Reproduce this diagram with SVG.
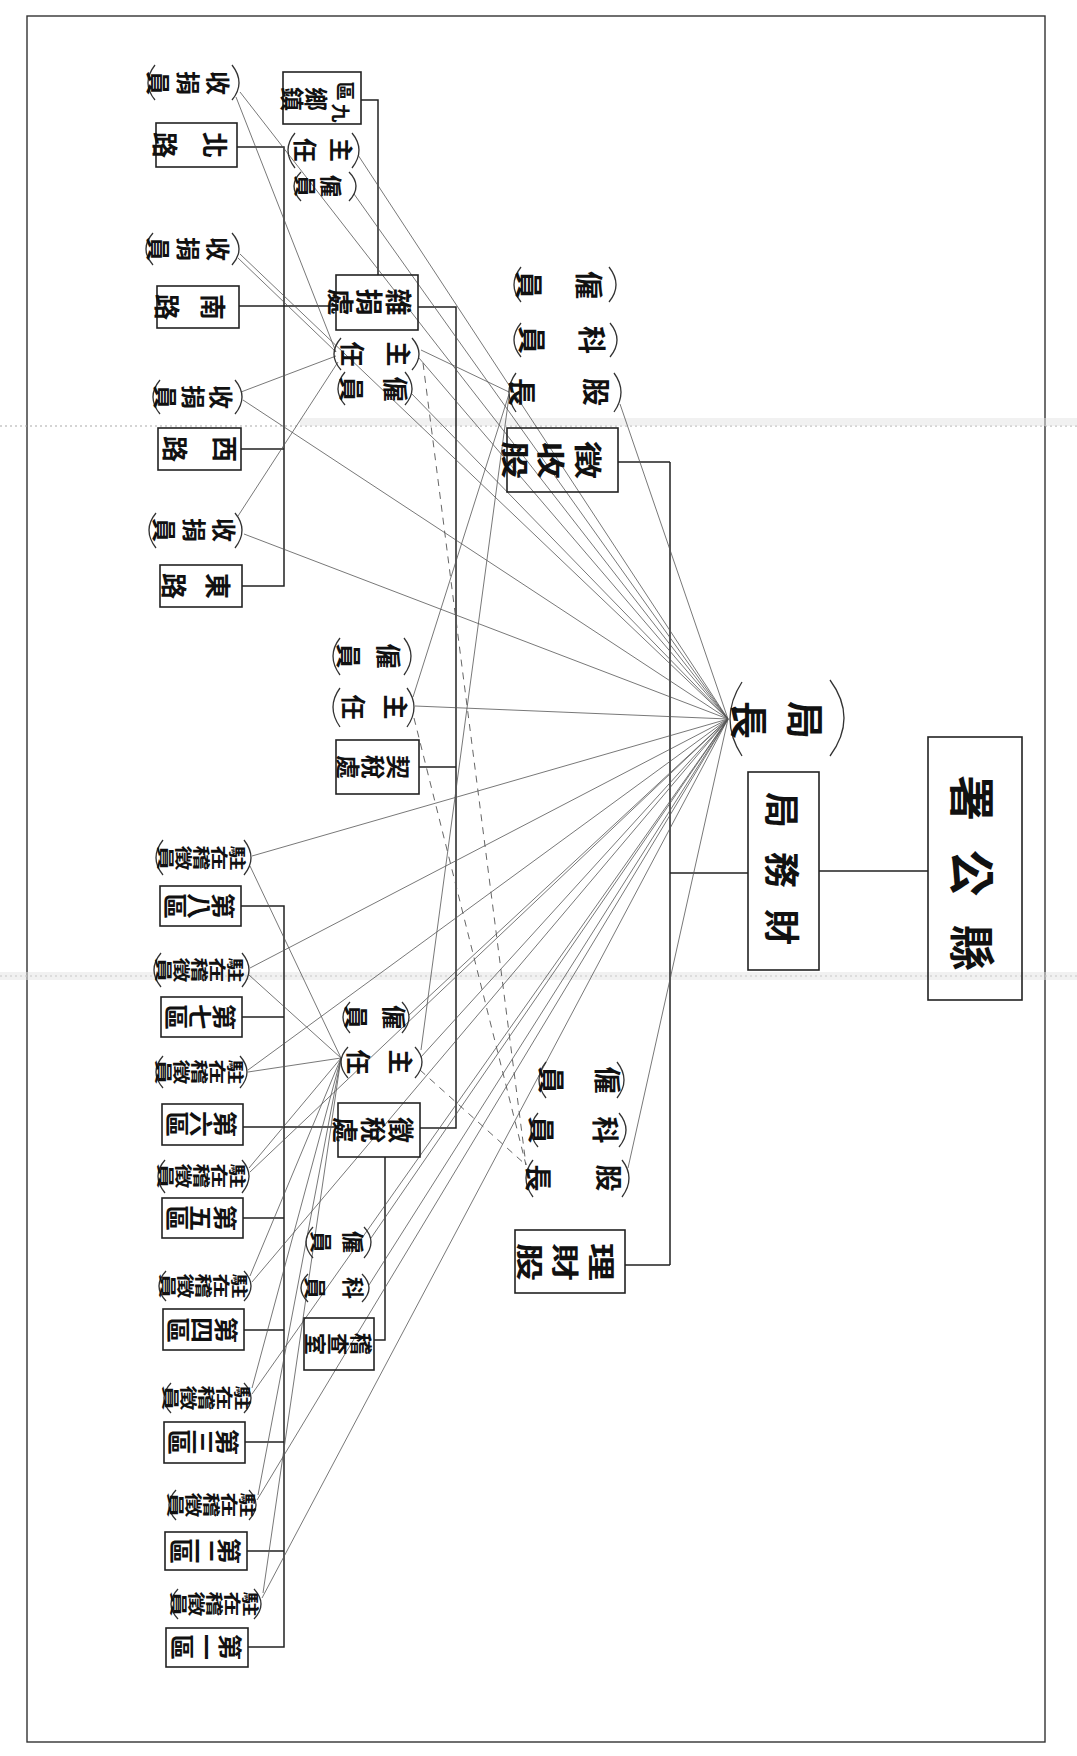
<svg xmlns="http://www.w3.org/2000/svg" width="1077" height="1756" viewBox="0 0 1077 1756">
<style>
.box{fill:none;stroke:#222;stroke-width:1.6}
.arc{fill:none;stroke:#333;stroke-width:1.3}
.tree{fill:none;stroke:#222;stroke-width:1.5}
.fan{fill:none;stroke:#555;stroke-width:0.8}
.dash{fill:none;stroke:#555;stroke-width:0.9;stroke-dasharray:7 6}
.frame{fill:none;stroke:#333;stroke-width:1.4}
.band{fill:none;stroke:#aaa;stroke-width:1.2;stroke-dasharray:2 3}
text{font-family:"Noto Sans CJK TC","Noto Sans CJK SC",sans-serif;font-weight:bold;fill:#111;dominant-baseline:central;text-anchor:middle}
</style>
<rect width="1077" height="1756" fill="#fff"/>
<rect class="frame" x="27" y="16" width="1018" height="1726"/>
<path class="band" d="M0 426H1077M0 976H1077"/>
<rect x="0" y="972" width="1077" height="8" fill="#e4e4e4" opacity="0.5"/>
<rect x="300" y="418" width="777" height="8" fill="#e4e4e4" opacity="0.5"/>

<g id="connectors">
<path class="tree" d="M819 871H928M748 873H670M670 462V1265M618 462H670M625 1265H670M418 307H456V1128H420M419 767H456M361 100H378V275M237 147H284V586H242M239 306H336M241 449H284M385 1157V1340H374M241 906H284V1647H248M242 1017H284M243 1127H338M243 1218H284M244 1330H284M245 1442H284M247 1551H284"/>
<path class="fan" d="M728 719L240 92M728 719L240 254M728 719L243 400M728 719L244 534M728 719L358 155M728 719L354 194M728 719L419 358M728 719L411 393M728 719L620 404M728 719L415 706
M728 719L252 856M728 719L250 968M728 719L248 1070M728 719L250 1172M728 719L252 1282M728 719L252 1394M728 719L257 1500M728 719L262 1598M728 719L409 1015M728 719L421 1057M728 719L371 1238M728 719L369 1285M728 719L628 1168
M336 352L236 97M336 352L238 258M336 356L241 392M338 362L238 516
M509 392L421 350M509 394L413 697M509 396L421 1050
M341 1058L250 866M341 1058L249 975M341 1058L248 1072M341 1058L249 1168M341 1058L250 1276M341 1058L252 1388M341 1058L258 1495M341 1058L263 1593"/>
<path class="dash" d="M423 363L526 1165M414 718L526 1165M420 1070L526 1165"/>
</g>

<g id="n-xiangongshu"><rect class="box" x="928" y="737" width="94" height="263"/>
<text transform="translate(975,873) rotate(90)" font-size="46"><tspan x="75">縣</tspan><tspan x="0">公</tspan><tspan x="-75">署</tspan></text></g>

<g id="n-caiwuju"><rect class="box" x="748" y="772" width="71" height="198"/>
<text transform="translate(784,870) rotate(90)" font-size="36"><tspan x="57">財</tspan><tspan x="0">務</tspan><tspan x="-60">局</tspan></text></g>

<g id="n-juzhang"><path class="arc" d="M742 682Q718 719 742 756M830 680Q858 718 830 756"/>
<text transform="translate(780,720) rotate(90)" font-size="38"><tspan x="0" y="-28">局</tspan><tspan x="0" y="28">長</tspan></text></g>

<g id="n-zhengshougu"><rect class="box" x="507" y="428" width="111" height="64"/>
<text transform="translate(553,460) rotate(90) scale(1,0.75)" font-size="38"><tspan x="0" y="-49">徵</tspan><tspan x="0" y="0">收</tspan><tspan x="0" y="49">股</tspan></text></g>
<g id="n-zs-guyuan"><path class="arc" d="M521 267Q507 285 521 302M609 267Q623 285 609 302"/>
<text transform="translate(560,285) rotate(90)" font-size="28"><tspan x="0" y="-30">僱</tspan><tspan x="0" y="30">員</tspan></text></g>
<g id="n-zs-keyuan"><path class="arc" d="M521 323Q507 340 521 357M610 323Q624 340 610 357"/>
<text transform="translate(563,340) rotate(90)" font-size="28"><tspan x="0" y="-30">科</tspan><tspan x="0" y="30">員</tspan></text></g>
<g id="n-zs-guzhang"><path class="arc" d="M516 373Q502 392 516 412M614 373Q628 392 614 412"/>
<text transform="translate(560,392) rotate(90)" font-size="28"><tspan x="0" y="-37">股</tspan><tspan x="0" y="37">長</tspan></text></g>

<g id="n-licaigu"><rect class="box" x="515" y="1230" width="110" height="63"/>
<text transform="translate(567,1262) rotate(90) scale(1,0.72)" font-size="38"><tspan x="0" y="-50">理</tspan><tspan x="0" y="0">財</tspan><tspan x="0" y="50">股</tspan></text></g>
<g id="n-lc-guyuan"><path class="arc" d="M546 1062Q532 1080 546 1098M617 1062Q631 1080 617 1098"/>
<text transform="translate(581,1080) rotate(90)" font-size="27"><tspan x="0" y="-28">僱</tspan><tspan x="0" y="28">員</tspan></text></g>
<g id="n-lc-keyuan"><path class="arc" d="M538 1113Q524 1130 538 1147M619 1113Q633 1130 619 1147"/>
<text transform="translate(575,1130) rotate(90)" font-size="27"><tspan x="0" y="-32">科</tspan><tspan x="0" y="32">員</tspan></text></g>
<g id="n-lc-guzhang"><path class="arc" d="M533 1160Q519 1178 533 1197M622 1160Q636 1178 622 1197"/>
<text transform="translate(575,1178) rotate(90)" font-size="27"><tspan x="0" y="-35">股</tspan><tspan x="0" y="35">長</tspan></text></g>

<g id="n-zajuanchu"><rect class="box" x="336" y="275" width="82" height="55"/>
<text transform="translate(371,302) rotate(90)" font-size="27"><tspan x="0" y="-29">雜</tspan><tspan x="0" y="0">捐</tspan><tspan x="0" y="29">處</tspan></text></g>
<g id="n-zj-zhuren"><path class="arc" d="M341 338Q327 354 341 370M412 338Q426 354 412 370"/>
<text transform="translate(377,354) rotate(90)" font-size="25"><tspan x="0" y="-23">主</tspan><tspan x="0" y="23">任</tspan></text></g>
<g id="n-zj-guyuan"><path class="arc" d="M345 372Q331 389 345 405M405 372Q419 389 405 405"/>
<text transform="translate(375,389) rotate(90)" font-size="25"><tspan x="0" y="-22">僱</tspan><tspan x="0" y="22">員</tspan></text></g>

<g id="n-jiuqu"><rect class="box" x="283" y="72" width="78" height="52"/>
<text transform="translate(320,99) rotate(90)"><tspan x="14" y="-22" font-size="19">九</tspan><tspan x="-8" y="-27" font-size="19">區</tspan><tspan x="0" y="2" font-size="24">鄉</tspan><tspan x="0" y="26" font-size="24">鎮</tspan></text></g>
<g id="n-bei-zhuren"><path class="arc" d="M295 133Q281 150 295 168M352 133Q366 150 352 168"/>
<text transform="translate(325,150) rotate(90)" font-size="24"><tspan x="0" y="-18">主</tspan><tspan x="0" y="18">任</tspan></text></g>
<g id="n-bei-guyuan"><path class="arc" d="M301 172Q287 186 301 201M349 172Q363 186 349 201"/>
<text transform="translate(320,186) rotate(90)" font-size="22"><tspan x="0" y="-13">僱</tspan><tspan x="0" y="13">員</tspan></text></g>

<g id="n-shoujuan-a"><path class="arc" d="M155 65Q141 83 155 100M232 65Q246 83 232 100"/>
<text transform="translate(190,83) rotate(90)" font-size="24"><tspan x="0" y="-30">收</tspan><tspan x="0" y="0">捐</tspan><tspan x="0" y="30">員</tspan></text></g>
<g id="n-beilu"><rect class="box" x="156" y="123" width="81" height="44"/>
<text transform="translate(192,145) rotate(90)" font-size="26"><tspan x="0" y="-25">北</tspan><tspan x="0" y="25">路</tspan></text></g>
<g id="n-shoujuan-b"><path class="arc" d="M153 233Q139 249 153 265M232 233Q246 249 232 265"/>
<text transform="translate(190,249) rotate(90)" font-size="24"><tspan x="0" y="-30">收</tspan><tspan x="0" y="0">捐</tspan><tspan x="0" y="30">員</tspan></text></g>
<g id="n-nanlu"><rect class="box" x="157" y="286" width="82" height="42"/>
<text transform="translate(192,307) rotate(90)" font-size="26"><tspan x="0" y="-23">南</tspan><tspan x="0" y="23">路</tspan></text></g>
<g id="n-shoujuan-c"><path class="arc" d="M160 380Q146 397 160 414M235 380Q249 397 235 414"/>
<text transform="translate(195,397) rotate(90)" font-size="24"><tspan x="0" y="-28">收</tspan><tspan x="0" y="0">捐</tspan><tspan x="0" y="28">員</tspan></text></g>
<g id="n-xilu"><rect class="box" x="158" y="428" width="83" height="42"/>
<text transform="translate(202,449) rotate(90)" font-size="26"><tspan x="0" y="-25">西</tspan><tspan x="0" y="25">路</tspan></text></g>
<g id="n-shoujuan-d"><path class="arc" d="M156 513Q142 530 156 548M235 513Q249 530 235 548"/>
<text transform="translate(196,530) rotate(90)" font-size="24"><tspan x="0" y="-30">收</tspan><tspan x="0" y="0">捐</tspan><tspan x="0" y="30">員</tspan></text></g>
<g id="n-donglu"><rect class="box" x="160" y="565" width="82" height="42"/>
<text transform="translate(198,586) rotate(90)" font-size="26"><tspan x="0" y="-22">東</tspan><tspan x="0" y="22">路</tspan></text></g>

<g id="n-qs-guyuan"><path class="arc" d="M340 638Q326 656 340 675M404 638Q418 656 404 675"/>
<text transform="translate(370,656) rotate(90)" font-size="25"><tspan x="0" y="-20">僱</tspan><tspan x="0" y="20">員</tspan></text></g>
<g id="n-qs-zhuren"><path class="arc" d="M340 688Q326 707 340 727M407 688Q421 707 407 727"/>
<text transform="translate(376,707) rotate(90)" font-size="25"><tspan x="0" y="-21">主</tspan><tspan x="0" y="21">任</tspan></text></g>
<g id="n-qishuichu"><rect class="box" x="336" y="740" width="83" height="54"/>
<text transform="translate(375,767) rotate(90)" font-size="24"><tspan x="0" y="-25">契</tspan><tspan x="0" y="0">稅</tspan><tspan x="0" y="25">處</tspan></text></g>

<g id="n-zsc-guyuan"><path class="arc" d="M350 1002Q336 1017 350 1033M402 1002Q416 1017 402 1033"/>
<text transform="translate(377,1017) rotate(90)" font-size="24"><tspan x="0" y="-19">僱</tspan><tspan x="0" y="19">員</tspan></text></g>
<g id="n-zsc-zhuren"><path class="arc" d="M348 1047Q334 1062 348 1078M415 1047Q429 1062 415 1078"/>
<text transform="translate(381,1062) rotate(90)" font-size="25"><tspan x="0" y="-21">主</tspan><tspan x="0" y="21">任</tspan></text></g>
<g id="n-zhengshuichu"><rect class="box" x="338" y="1103" width="82" height="54"/>
<text transform="translate(375,1130) rotate(90)" font-size="26"><tspan x="0" y="-28">徵</tspan><tspan x="0" y="0">稅</tspan><tspan x="0" y="28">處</tspan></text></g>

<g id="n-jc-guyuan"><path class="arc" d="M313 1227Q299 1242 313 1258M364 1227Q378 1242 364 1258"/>
<text transform="translate(339,1242) rotate(90)" font-size="22"><tspan x="0" y="-16">僱</tspan><tspan x="0" y="16">員</tspan></text></g>
<g id="n-jc-keyuan"><path class="arc" d="M308 1274Q294 1288 308 1302M362 1274Q376 1288 362 1302"/>
<text transform="translate(336,1288) rotate(90)" font-size="22"><tspan x="0" y="-19">科</tspan><tspan x="0" y="19">員</tspan></text></g>
<g id="n-jichashi"><rect class="box" x="304" y="1318" width="70" height="52"/>
<text transform="translate(340,1344) rotate(90)" font-size="22"><tspan x="0" y="-23">稽</tspan><tspan x="0" y="0">查</tspan><tspan x="0" y="23">室</tspan></text></g>

<g id="n-l8"><path class="arc" d="M163 840Q149 858 163 875M244 840Q258 858 244 875"/>
<text transform="translate(203,858) rotate(90) scale(1,0.7)" font-size="25"><tspan x="0" y="-51">駐</tspan><tspan x="0" y="-25.5">在</tspan><tspan x="0" y="0">稽</tspan><tspan x="0" y="25.5">徵</tspan><tspan x="0" y="51">員</tspan></text></g>
<g id="n-d8"><rect class="box" x="160" y="886" width="81" height="40"/>
<text transform="translate(200,906) rotate(90) scale(1,0.9)" font-size="26"><tspan x="0" y="-26.7">第</tspan><tspan x="0" y="0">八</tspan><tspan x="0" y="26.7">區</tspan></text></g>
<g id="n-l7"><path class="arc" d="M161 953Q147 970 161 987M242 953Q256 970 242 987"/>
<text transform="translate(201,970) rotate(90) scale(1,0.7)" font-size="25"><tspan x="0" y="-51">駐</tspan><tspan x="0" y="-25.5">在</tspan><tspan x="0" y="0">稽</tspan><tspan x="0" y="25.5">徵</tspan><tspan x="0" y="51">員</tspan></text></g>
<g id="n-d7"><rect class="box" x="161" y="997" width="81" height="40"/>
<text transform="translate(201,1017) rotate(90) scale(1,0.9)" font-size="26"><tspan x="0" y="-26.7">第</tspan><tspan x="0" y="0">七</tspan><tspan x="0" y="26.7">區</tspan></text></g>
<g id="n-l6"><path class="arc" d="M163 1056Q149 1072 163 1088M240 1056Q254 1072 240 1088"/>
<text transform="translate(201,1072) rotate(90) scale(1,0.7)" font-size="25"><tspan x="0" y="-51">駐</tspan><tspan x="0" y="-25.5">在</tspan><tspan x="0" y="0">稽</tspan><tspan x="0" y="25.5">徵</tspan><tspan x="0" y="51">員</tspan></text></g>
<g id="n-d6"><rect class="box" x="162" y="1104" width="81" height="41"/>
<text transform="translate(202,1124) rotate(90) scale(1,0.9)" font-size="26"><tspan x="0" y="-26.7">第</tspan><tspan x="0" y="0">六</tspan><tspan x="0" y="26.7">區</tspan></text></g>
<g id="n-l5"><path class="arc" d="M165 1160Q151 1176 165 1193M242 1160Q256 1176 242 1193"/>
<text transform="translate(203,1176) rotate(90) scale(1,0.7)" font-size="25"><tspan x="0" y="-51">駐</tspan><tspan x="0" y="-25.5">在</tspan><tspan x="0" y="0">稽</tspan><tspan x="0" y="25.5">徵</tspan><tspan x="0" y="51">員</tspan></text></g>
<g id="n-d5"><rect class="box" x="162" y="1198" width="81" height="40"/>
<text transform="translate(202,1218) rotate(90) scale(1,0.9)" font-size="26"><tspan x="0" y="-26.7">第</tspan><tspan x="0" y="0">五</tspan><tspan x="0" y="26.7">區</tspan></text></g>
<g id="n-l4"><path class="arc" d="M166 1271Q152 1286 166 1301M244 1271Q258 1286 244 1301"/>
<text transform="translate(205,1286) rotate(90) scale(1,0.7)" font-size="25"><tspan x="0" y="-51">駐</tspan><tspan x="0" y="-25.5">在</tspan><tspan x="0" y="0">稽</tspan><tspan x="0" y="25.5">徵</tspan><tspan x="0" y="51">員</tspan></text></g>
<g id="n-d4"><rect class="box" x="163" y="1309" width="81" height="41"/>
<text transform="translate(203,1330) rotate(90) scale(1,0.9)" font-size="26"><tspan x="0" y="-26.7">第</tspan><tspan x="0" y="0">四</tspan><tspan x="0" y="26.7">區</tspan></text></g>
<g id="n-l3"><path class="arc" d="M171 1383Q157 1398 171 1413M244 1383Q258 1398 244 1413"/>
<text transform="translate(208,1398) rotate(90) scale(1,0.7)" font-size="25"><tspan x="0" y="-51">駐</tspan><tspan x="0" y="-25.5">在</tspan><tspan x="0" y="0">稽</tspan><tspan x="0" y="25.5">徵</tspan><tspan x="0" y="51">員</tspan></text></g>
<g id="n-d3"><rect class="box" x="164" y="1422" width="81" height="41"/>
<text transform="translate(204,1442) rotate(90) scale(1,0.9)" font-size="26"><tspan x="0" y="-26.7">第</tspan><tspan x="0" y="0">三</tspan><tspan x="0" y="26.7">區</tspan></text></g>
<g id="n-l2"><path class="arc" d="M176 1490Q162 1505 176 1520M249 1490Q263 1505 249 1520"/>
<text transform="translate(213,1505) rotate(90) scale(1,0.7)" font-size="25"><tspan x="0" y="-51">駐</tspan><tspan x="0" y="-25.5">在</tspan><tspan x="0" y="0">稽</tspan><tspan x="0" y="25.5">徵</tspan><tspan x="0" y="51">員</tspan></text></g>
<g id="n-d2"><rect class="box" x="165" y="1532" width="82" height="38"/>
<text transform="translate(206,1551) rotate(90) scale(1,0.9)" font-size="26"><tspan x="0" y="-26.7">第</tspan><tspan x="0" y="0">二</tspan><tspan x="0" y="26.7">區</tspan></text></g>
<g id="n-l1"><path class="arc" d="M178 1589Q164 1604 178 1619M254 1589Q268 1604 254 1619"/>
<text transform="translate(216,1604) rotate(90) scale(1,0.7)" font-size="25"><tspan x="0" y="-51">駐</tspan><tspan x="0" y="-25.5">在</tspan><tspan x="0" y="0">稽</tspan><tspan x="0" y="25.5">徵</tspan><tspan x="0" y="51">員</tspan></text></g>
<g id="n-d1"><rect class="box" x="166" y="1628" width="82" height="39"/>
<text transform="translate(207,1647) rotate(90) scale(1,0.9)" font-size="26"><tspan x="0" y="-26.7">第</tspan><tspan x="0" y="0">一</tspan><tspan x="0" y="26.7">區</tspan></text></g>
</svg>
